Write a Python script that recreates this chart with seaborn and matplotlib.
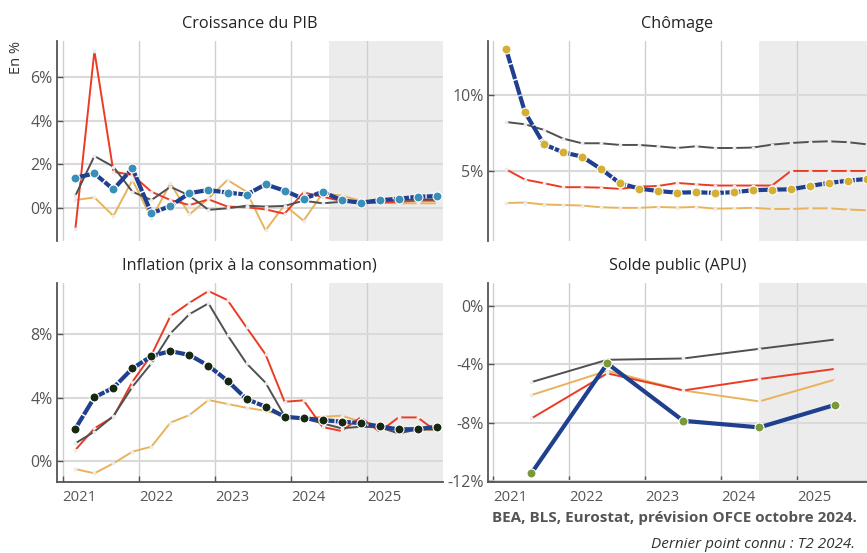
import numpy as np
import pandas as pd
import matplotlib
matplotlib.use("Agg")
import matplotlib.pyplot as plt
import seaborn as sns
from matplotlib.ticker import FuncFormatter

# --- Data ---
QUARTERS = pd.period_range("2021Q1", "2025Q4", freq="Q")
YEARS = [2021, 2022, 2023, 2024, 2025]
FORECAST_START = 2024.5

# Croissance du PIB (t/t-1, %)
gdp_blue = [1.37, 1.57, 0.84, 1.80, -0.26, 0.08, 0.67, 0.81, 0.69, 0.60,
            1.07, 0.78, 0.40, 0.73, 0.34, 0.23, 0.34, 0.41, 0.50, 0.53]
gdp_gray = [0.55, 2.37, 1.88, 0.73, 0.35, 0.96, 0.55, -0.10, -0.03, 0.09,
            0.05, 0.08, 0.32, 0.20, 0.27, 0.27, 0.32, 0.35, 0.37, 0.38]
gdp_red = [-0.97, 7.19, 1.65, 1.50, 0.73, 0.35, 0.12, 0.38, 0.05, 0.02,
           -0.08, -0.28, 0.70, 0.50, 0.31, 0.20, 0.23, 0.27, 0.32, 0.32]
gdp_orange = [0.35, 0.47, -0.38, 1.27, -0.49, 1.11, -0.31, 0.43, 1.27, 0.73,
              -1.04, 0.12, -0.60, 0.66, 0.55, 0.32, 0.23, 0.20, 0.20, 0.20]

# Chomage (%)
unemp_blue = [13.03, 8.86, 6.75, 6.23, 5.94, 5.13, 4.19, 3.84, 3.68, 3.57,
              3.60, 3.55, 3.60, 3.73, 3.77, 3.79, 4.01, 4.21, 4.36, 4.47]
unemp_gray = [8.22, 8.07, 7.70, 7.13, 6.82, 6.82, 6.71, 6.71, 6.62, 6.51,
              6.62, 6.51, 6.51, 6.54, 6.73, 6.84, 6.91, 6.95, 6.89, 6.75]
unemp_red = [5.11, 4.43, 4.19, 3.93, 3.93, 3.90, 3.82, 3.97, 4.01, 4.21,
             4.12, 4.04, 4.04, 4.04, 4.04, 5.00, 5.00, 5.00, 5.00, 5.00]
unemp_orange = [2.89, 2.92, 2.79, 2.76, 2.72, 2.61, 2.57, 2.57, 2.63, 2.59,
                2.63, 2.52, 2.54, 2.57, 2.50, 2.50, 2.54, 2.54, 2.46, 2.41]

# Inflation (glissement annuel, %)
infl_blue = [2.03, 4.01, 4.62, 5.84, 6.62, 6.94, 6.69, 6.01, 5.06, 3.90,
             3.42, 2.78, 2.68, 2.57, 2.47, 2.38, 2.17, 1.98, 2.00, 2.15]
infl_gray = [1.10, 1.84, 2.83, 4.68, 6.16, 8.06, 9.28, 9.96, 7.95, 6.16,
             4.94, 2.83, 2.68, 2.36, 2.05, 2.15, 2.11, 1.73, 1.98, 1.98]
infl_red = [0.68, 2.05, 2.78, 5.00, 6.69, 9.16, 10.00, 10.74, 10.17, 8.44,
            6.73, 3.73, 3.82, 2.13, 1.88, 2.74, 1.84, 2.74, 2.74, 1.84]
infl_orange = [-0.53, -0.80, -0.17, 0.57, 0.89, 2.41, 2.89, 3.84, 3.59, 3.35,
               3.16, 2.83, 2.68, 2.78, 2.85, 2.47, 2.19, 2.03, 1.98, 1.94]

# Solde public (% du PIB, annuel)
bal_blue = [-11.48, -3.95, -7.88, -8.33, -6.78]
bal_gray = [-5.23, -3.70, -3.61, -2.95, -2.31]
bal_red = [-7.72, -4.63, -5.80, -5.02, -4.32]
bal_orange = [-6.12, -4.45, -5.80, -6.55, -5.05]

# --- Style ---
BLUE = "#1f3f8f"
GRAY = "#505050"
RED = "#ec3b24"
ORANGE = "#e9b25c"
SHADE = "#ececec"
TXT = "#555555"

sns.set_theme(style="white")
plt.rcParams["font.family"] = ["Open Sans", "DejaVu Sans"]

q_x = QUARTERS.year + (QUARTERS.quarter * 3 - 1) / 12
y_x = np.array(YEARS) + 0.5

W, H = 867, 553
fig = plt.figure(figsize=(W / 100, H / 100), dpi=100)


def add_axes(left, right, top, bottom):
    return fig.add_axes([left / W, 1 - bottom / H, (right - left) / W, (bottom - top) / H])


pct = FuncFormatter(lambda v, p: f"{v:.0f}%")


def panel(ax, x, blue, others, mcolor, title, ylim, yticks, xlim, bottom, dashed=True):
    ax.axvspan(FORECAST_START, xlim[1] + 1, color=SHADE, zorder=0, lw=0)
    for vals, col in others:
        sns.lineplot(x=x, y=vals, ax=ax, color=col, lw=1.4, marker="o",
                     markersize=2.8, markerfacecolor="#ececec",
                     markeredgewidth=0, zorder=3)
    ls = (0, (3.6, 0.35)) if dashed else "-"
    sns.lineplot(x=x, y=blue, ax=ax, color=BLUE, lw=3.0, linestyle=ls,
                 marker="o", markersize=6.5, markerfacecolor=mcolor,
                 markeredgecolor="white", markeredgewidth=0.8, zorder=5,
                 clip_on=False)
    ax.set_xlim(*xlim)
    ax.set_ylim(*ylim)
    ax.set_xticks(YEARS)
    ax.set_yticks(yticks)
    ax.yaxis.set_major_formatter(pct)
    ax.set_axisbelow(True)
    ax.grid(axis="y", color="#dadada", lw=1.5)
    ax.grid(axis="x", color="#cfcfcf", lw=1.0)
    ax.set_xlabel("")
    ax.set_ylabel("")
    ax.set_title(title, fontsize=11.7, color="#222222", pad=9)
    for s in ["top", "right"]:
        ax.spines[s].set_visible(False)
    ax.spines["left"].set_color(TXT)
    ax.spines["left"].set_linewidth(1.3)
    ax.tick_params(axis="y", direction="in", length=4, width=1, color=TXT,
                   labelcolor=TXT, labelsize=11.5, pad=3, left=True)
    if bottom:
        ax.spines["bottom"].set_color(TXT)
        ax.spines["bottom"].set_linewidth(1.3)
        ax.tick_params(axis="x", direction="in", length=4, width=1, color=TXT,
                       labelcolor=TXT, labelsize=10.7, pad=6, bottom=True)
        ax.set_xticklabels([str(y) for y in YEARS])
        for lbl in ax.get_xticklabels():
            lbl.set_ha("left")
    else:
        ax.spines["bottom"].set_visible(False)
        ax.tick_params(axis="x", bottom=False, labelbottom=False)


ax_gdp = add_axes(56.7, 443, 41, 241)
panel(ax_gdp, q_x, gdp_blue,
      [(gdp_orange, ORANGE), (gdp_red, RED), (gdp_gray, GRAY)],
      "#3a8fb8", "Croissance du PIB", (-1.53, 7.65), [0, 2, 4, 6],
      (2020.921, 2026.0), False)

ax_unemp = add_axes(487.7, 867, 41, 241)
panel(ax_unemp, q_x, unemp_blue,
      [(unemp_orange, ORANGE), (unemp_red, RED), (unemp_gray, GRAY)],
      "#d4af32", "Chômage", (0.39, 13.55), [5, 10],
      (2020.926, 2025.917), False)

ax_infl = add_axes(56.7, 443, 282.7, 482)
panel(ax_infl, q_x, infl_blue,
      [(infl_orange, ORANGE), (infl_red, RED), (infl_gray, GRAY)],
      "#16280f", "Inflation (prix à la consommation)", (-1.35, 11.27), [0, 4, 8],
      (2020.921, 2026.0), True)

ax_bal = add_axes(487.7, 867, 282.7, 482)
panel(ax_bal, y_x, bal_blue,
      [(bal_orange, ORANGE), (bal_red, RED), (bal_gray, GRAY)],
      "#7a9a3a", "Solde public (APU)", (-12.07, 1.58), [0, -4, -8, -12],
      (2020.926, 2025.917), True, dashed=False)

fig.text(17 / W, 1 - 58 / H, "En %", rotation=90, ha="center", va="center",
         fontsize=10.5, color="#333333")
fig.text(857 / W, 1 - 518 / H, "BEA, BLS, Eurostat, prévision OFCE octobre 2024.",
         ha="right", va="center", fontsize=11, weight="bold", color=TXT)
fig.text(855 / W, 1 - 545 / H, "Dernier point connu : T2 2024.",
         ha="right", va="center", fontsize=11, style="italic", color="#333333")

fig.savefig("out.png", dpi=100)
